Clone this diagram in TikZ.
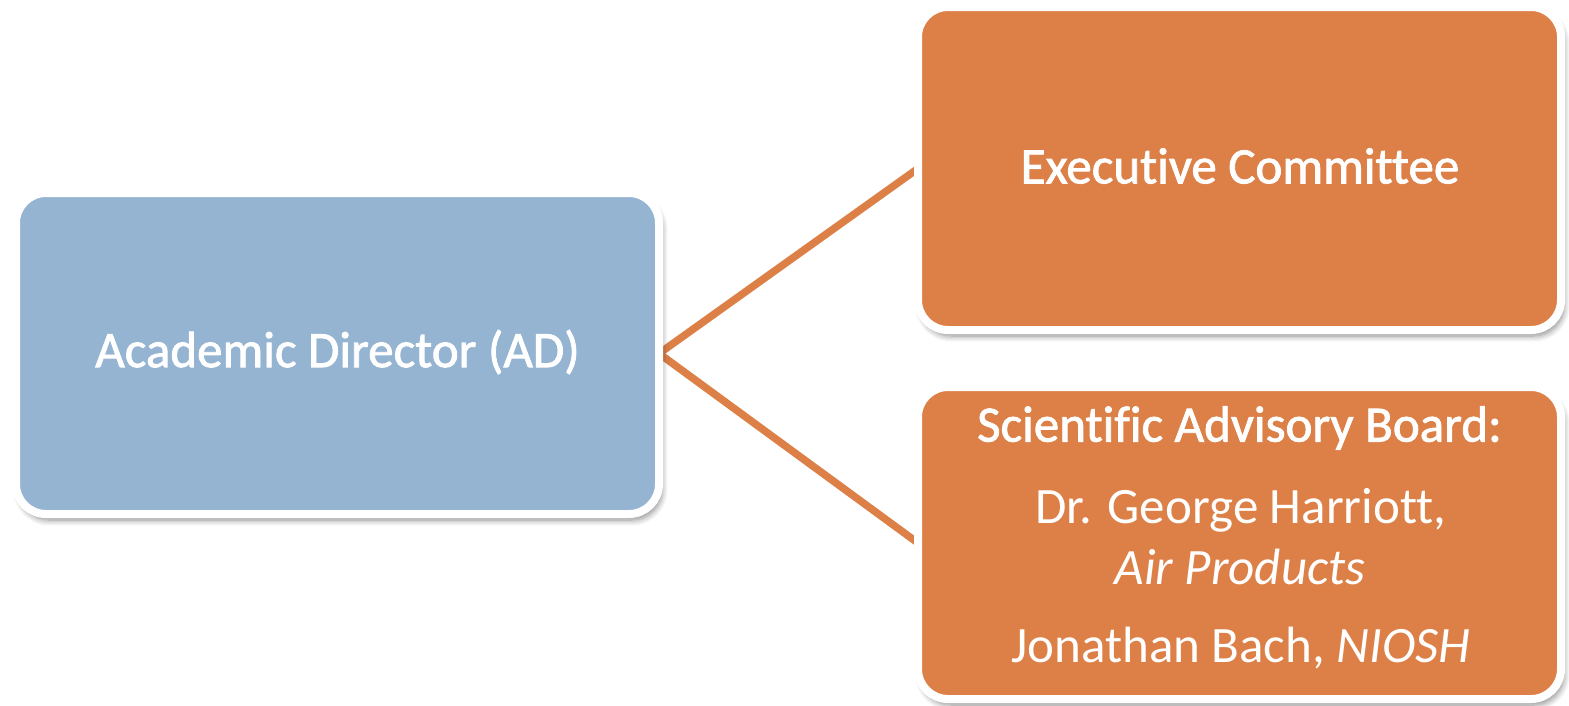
\documentclass[tikz,border=0pt]{standalone}
\usepackage{fontspec}
\setmainfont[Ligatures=NoCommon]{Carlito}
\newfontfamily\headfont[Ligatures=NoCommon,FakeBold=1.6]{Carlito}
\usetikzlibrary{shadows.blur,backgrounds}
\definecolor{boxblue}{RGB}{148,180,210}
\definecolor{boxorange}{RGB}{221,128,71}
\tikzset{
  box/.style={draw=white,line width=8pt,rounded corners=30pt,outer sep=0pt,inner sep=0pt,
    blur shadow={shadow xshift=3pt,shadow yshift=-6pt,shadow blur steps=8,shadow blur radius=6pt,shadow opacity=45}},
  txt/.style={text=white,font=\fontsize{51}{58}\selectfont,inner sep=0pt},
  head/.style={text=white,font=\headfont\fontsize{51}{58}\selectfont,inner sep=0pt},
  link/.style={draw=boxorange,line width=7.5pt}
}
\begin{document}
\begin{tikzpicture}[x=1pt,y=-1pt]
\useasboundingbox (0,0) rectangle (1569,705);
\node[box,fill=boxblue,minimum width=643pt,minimum height=321pt] (ad) at (337.5,353.5) {};
\node[box,fill=boxorange,minimum width=643pt,minimum height=323pt] (ec) at (1239.5,168.5) {};
\node[box,fill=boxorange,minimum width=643pt,minimum height=312pt] (sab) at (1239.5,543) {};
\begin{scope}[on background layer]
\draw[link] (ad.east) -- (ec.west);
\draw[link] (ad.east) -- (sab.west);
\end{scope}
\node[head] (adt) at (337.5,352) {Academic Director (AD)};
\node[head] (ect) at (1240,166) {Executive Committee};
\node[head] (s1) at (1239.5,428) {Scientific Advisory Board:};
\node[txt] (s2) at (1241,510) {Dr. George Harriott,};
\node[txt] (s3) at (1240,567) {\itshape Air Products};
\node[txt] (s4) at (1241,648) {Jonathan Bach, \itshape NIOSH};
\end{tikzpicture}
\end{document}
